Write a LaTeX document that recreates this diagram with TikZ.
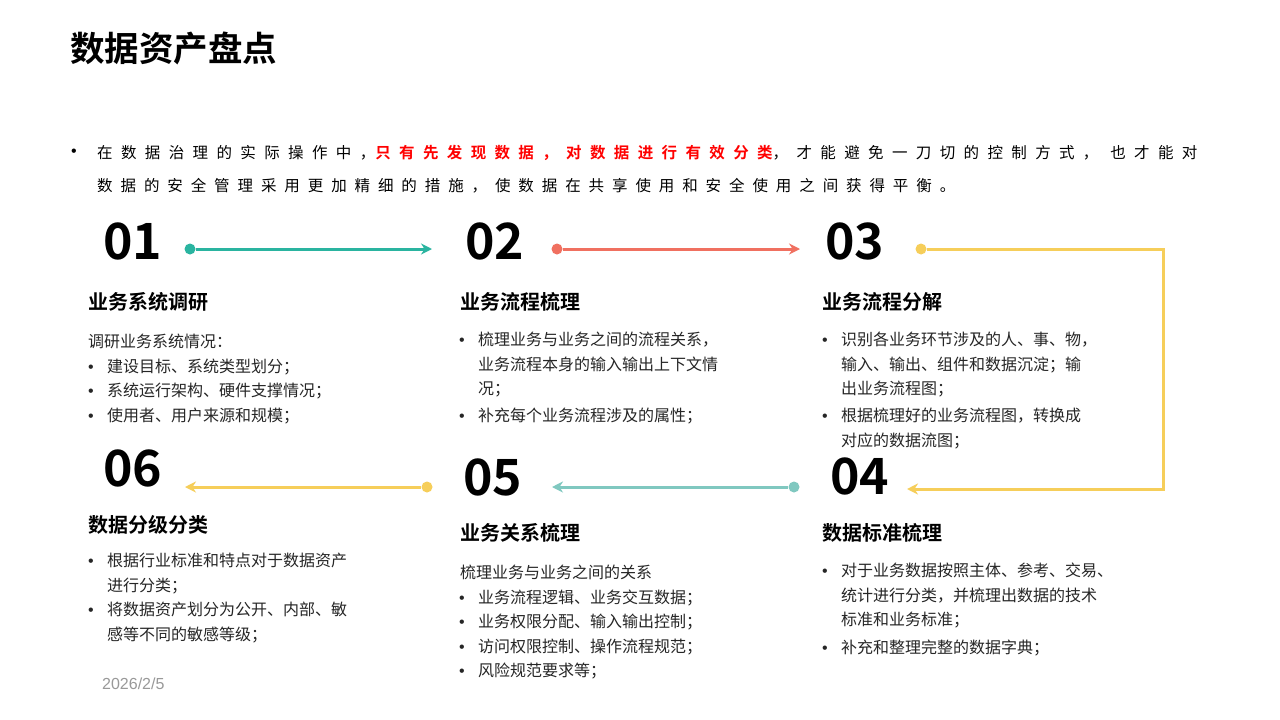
\documentclass[tikz,border=0pt]{standalone}
\usepackage{fontspec}
\setmainfont{Noto Sans CJK SC}[BoldFont={Noto Sans CJK SC Bold}]
\newfontfamily\introfont{Noto Sans CJK SC}[BoldFont={Noto Sans CJK SC Bold},LetterSpace=51]
\newfontfamily\introwide{Noto Sans CJK SC}[BoldFont={Noto Sans CJK SC Bold},LetterSpace=54]
\newfontfamily\latinfont{Liberation Sans}
\usetikzlibrary{arrows.meta, positioning}
\definecolor{stepteal}{RGB}{42,180,160}
\definecolor{stepsalmon}{RGB}{240,112,96}
\definecolor{stepyellow}{RGB}{246,206,90}
\definecolor{steplight}{RGB}{128,200,192}
\definecolor{bodygray}{RGB}{38,38,38}
\newcommand\bl{\makebox[19pt][l]{\latinfont •}}
\newcommand\ind{\hspace*{19pt}}

\begin{document}
\begin{tikzpicture}[x=1pt, y=-1pt,
    num/.style={anchor=west, inner sep=0, font=\fontsize{50}{50}\selectfont\bfseries},
    head/.style={anchor=west, inner sep=0, font=\fontsize{20}{20}\selectfont\bfseries},
    body/.style={anchor=north west, inner sep=0, align=left, text=bodygray, font=\fontsize{16}{24.5}\selectfont},
    dot/.style={circle, fill=#1, inner sep=0, minimum size=11pt},
    arrow/.style={-{Stealth[length=11pt, width=11pt]}, line width=3pt, draw=#1}]

    \useasboundingbox[fill=white] (0,0) rectangle (1280,720);

    % title and intro
    \node[anchor=west, inner sep=0, font=\fontsize{34.5}{34.5}\selectfont\bfseries] (title) at (70,48) {数据资产盘点};
    \node[inner sep=0, font=\latinfont\fontsize{16}{16}\selectfont] (introdot) at (74,153) {•};
    \node[anchor=west, inner sep=0, font=\introwide\fontsize{15.5}{15.5}\selectfont] (introa) at (97,153)
        {在数据治理的实际操作中，{\color{red}\bfseries 只有先发现数据，对数据进行有效分类}，才能避免一刀切的控制方式， 也才能对};
    \node[anchor=west, inner sep=0, font=\introfont\fontsize{15.5}{15.5}\selectfont] (introb) at (97,186)
        {数据的安全管理采用更加精细的措施，使数据在共享使用和安全使用之间获得平衡。};

    % numbers
    \node[num] (n1) at (103,241) {01};
    \node[num] (n2) at (465,241) {02};
    \node[num] (n3) at (825,241) {03};
    \node[num] (n6) at (103,468) {06};
    \node[num] (n5) at (463,477) {05};
    \node[num] (n4) at (830,476) {04};

    % connectors
    \node[dot=stepteal] (d1) at (190,249) {};
    \node[dot=stepsalmon] (d2) at (557,249) {};
    \node[dot=stepyellow] (d3) at (921,249) {};
    \node[dot=stepyellow] (d6) at (427,487) {};
    \node[dot=steplight] (d5) at (794,487) {};
    \coordinate (e1) at (432,249);
    \coordinate (e2) at (800,249);
    \coordinate (turn3) at (1163,489);
    \coordinate (e3) at (907,489);
    \coordinate (e6) at (185,487);
    \coordinate (e5) at (552,487);
    \draw[arrow=stepteal] (d1) -- (e1);
    \draw[arrow=stepsalmon] (d2) -- (e2);
    \draw[arrow=stepyellow] (d3) -| (turn3) -- (e3);
    \draw[arrow=stepyellow] (d6) -- (e6);
    \draw[arrow=steplight] (d5) -- (e5);

    % headings
    \node[head] (h1) at (88,302) {业务系统调研};
    \node[head] (h2) at (460,302) {业务流程梳理};
    \node[head] (h3) at (822,302) {业务流程分解};
    \node[head] (h6) at (88,525) {数据分级分类};
    \node[head] (h5) at (460,533) {业务关系梳理};
    \node[head] (h4) at (822,533) {数据标准梳理};

    % texts
    \node[body] (t1) at (88,334) {调研业务系统情况：\\ \bl 建设目标、系统类型划分；\\ \bl 系统运行架构、硬件支撑情况；\\ \bl 使用者、用户来源和规模；};
    \node[body] (t2) at (459,332) {\bl 梳理业务与业务之间的流程关系，\\ \ind 业务流程本身的输入输出上下文情\\ \ind 况；\\[2.5pt] \bl 补充每个业务流程涉及的属性；};
    \node[body] (t3) at (822,332) {\bl 识别各业务环节涉及的人、事、物，\\ \ind 输入、输出、组件和数据沉淀；输\\ \ind 出业务流程图；\\[2.5pt] \bl 根据梳理好的业务流程图，转换成\\ \ind 对应的数据流图；};
    \node[body] (t6) at (88,553) {\bl 根据行业标准和特点对于数据资产\\ \ind 进行分类；\\ \bl 将数据资产划分为公开、内部、敏\\ \ind 感等不同的敏感等级；};
    \node[body] (t5) at (459,565) {\hspace*{1pt}梳理业务与业务之间的关系\\ \bl 业务流程逻辑、业务交互数据；\\ \bl 业务权限分配、输入输出控制；\\ \bl 访问权限控制、操作流程规范；\\ \bl 风险规范要求等；};
    \node[body] (t4) at (822,563) {\bl 对于业务数据按照主体、参考、交易、\\ \ind 统计进行分类，并梳理出数据的技术\\ \ind 标准和业务标准；\\[3pt] \bl 补充和整理完整的数据字典；};

    % date
    \node[anchor=west, inner sep=0, text=black!40, font=\latinfont\fontsize{16}{16}\selectfont] (date) at (102,684) {2026/2/5};
\end{tikzpicture}
\end{document}
